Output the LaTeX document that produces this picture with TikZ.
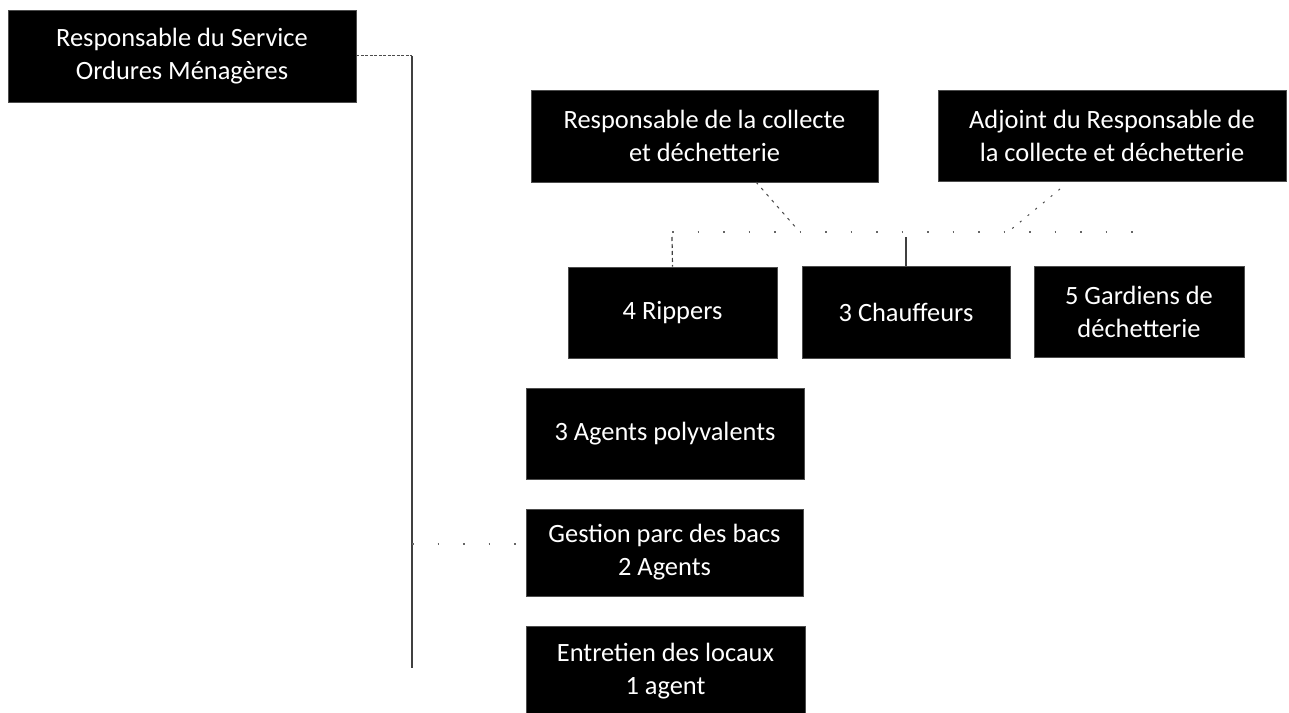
\documentclass[tikz,border=0pt]{standalone}
\usepackage{fontspec}
\setmainfont{Carlito}
\begin{document}
\begin{tikzpicture}[x=1bp,y=-1bp,
  orgbox/.style={fill=black,draw=black!70,line width=0.6bp,text=white,inner sep=0pt,
    align=center,font=\fontsize{26.5}{33}\selectfont},
  faint/.style={draw=black!60,line width=1.2bp,dash pattern=on 1.5bp off 24bp},
  trunk/.style={draw=black!75,line width=1.3bp}]
\useasboundingbox (0,0) rectangle (1289,713);
\node[orgbox,minimum width=348bp,minimum height=92bp] (A) at (182,56) {Responsable du Service\\Ordures Ménagères};
\node[orgbox,minimum width=347bp,minimum height=92bp] (B) at (704.5,136) {Responsable de la collecte\\et déchetterie};
\node[orgbox,minimum width=348bp,minimum height=91bp] (C) at (1112,135.5) {Adjoint du Responsable de\\la collecte et déchetterie};
\node[orgbox,minimum width=209bp,minimum height=91bp] (R) at (672.5,312.5) {4 Rippers};
\node[orgbox,minimum width=208bp,minimum height=92bp] (Ch) at (906,312) {3 Chauffeurs};
\node[orgbox,minimum width=210bp,minimum height=91bp] (G) at (1139,311.5) {5 Gardiens de\\déchetterie};
\node[orgbox,minimum width=278bp,minimum height=91bp] (P) at (665,433.5) {3 Agents polyvalents};
\node[orgbox,minimum width=277bp,minimum height=87bp] (Gb) at (664.5,552.5) {Gestion parc des bacs\\2 Agents};
\node[orgbox,minimum width=279bp,minimum height=90bp] (E) at (665.5,671) {Entretien des locaux\\1 agent};
% trunk from the head of service
\coordinate (ttop) at (412,56);
\coordinate (tbot) at (412,668);
\coordinate (tgb) at (412,544);
\draw[draw=black!70,line width=1bp,dash pattern=on 3bp off 1.5bp] (A.east |- ttop) -- (ttop);
\draw[trunk] (ttop) -- (tbot);
\draw[faint] (tgb) -- (Gb.west |- tgb);
% bus between collecte heads and agents
\coordinate (busL) at (672,232);
\coordinate (busR) at (1139,232);
\coordinate (bsrc) at (756,182);
\coordinate (bdst) at (798,230);
\coordinate (csrc) at (1060,189);
\coordinate (cdst) at (1008,232);
\coordinate (rtop) at (672,237);
\coordinate (chtop) at (906,237);
\draw[faint] (busL) -- (busR);
\draw[draw=black!70,line width=1bp,dash pattern=on 3bp off 5bp] (bsrc) -- (bdst);
\draw[draw=black!70,line width=1bp,dash pattern=on 2bp off 8bp] (csrc) -- (cdst);
\draw[draw=black!75,line width=1.2bp,dash pattern=on 4bp off 3bp] (rtop) -- (R.north);
\draw[trunk,line width=1.1bp] (chtop) -- (Ch.north);
\end{tikzpicture}
\end{document}
